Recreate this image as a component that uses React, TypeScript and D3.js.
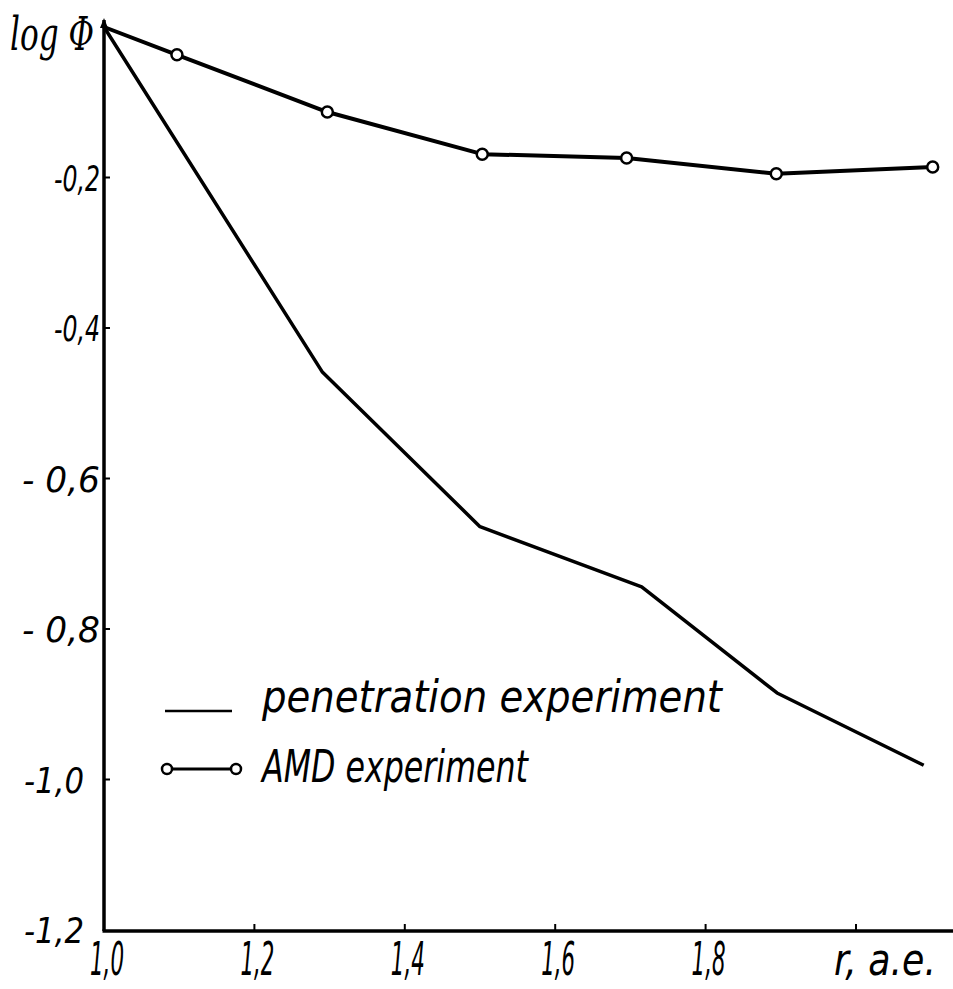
import React from 'react';
import * as d3 from 'd3';

// values (r in a.e., log Phi)
const penR = [1.0, 1.29, 1.5, 1.715, 1.895, 2.09];
const penLog = [0, -0.458, -0.664, -0.744, -0.885, -0.981];

const amdR = [1.0, 1.097, 1.297, 1.503, 1.695, 1.894, 2.102];
const amdLog = [0, -0.037, -0.113, -0.169, -0.174, -0.195, -0.186];

const xTicks = [1.0, 1.2, 1.4, 1.6, 1.8, 2.0];
const xTickLabels = ['1,0', '1,2', '1,4', '1,6', '1,8'];
const yTicks = [-0.2, -0.4, -0.6, -0.8, -1.0, -1.2];
const yTickLabels = ['-0,2', '-0,4', '- 0,6', '- 0,8', '-1,0', '-1,2'];

const W = 953;
const H = 989;
const font = '"DejaVu Sans Condensed", "Liberation Sans Narrow", "DejaVu Sans", sans-serif';

export default function App() {
  const x = d3.scaleLinear().domain([1, 2]).range([104, 856]);
  const y = d3.scaleLinear().domain([-1.2, 0]).range([930, 27]);

  const line = d3
    .line<[number, number]>()
    .x((d) => x(d[0]))
    .y((d) => y(d[1]));

  const pen = penR.map((r, i) => [r, penLog[i]] as [number, number]);
  const amd = amdR.map((r, i) => [r, amdLog[i]] as [number, number]);

  const x0 = x(1);
  const yBottom = y(-1.2) + 1;

  return (
    <svg width={W} height={H} style={{ position: 'absolute', left: 0, top: 0, background: '#fff' }}>
      {/* axes */}
      <line x1={x0} y1={20} x2={x0} y2={yBottom} stroke="#000" strokeWidth={3.5} />
      <line x1={x0 - 1.5} y1={yBottom} x2={W} y2={yBottom} stroke="#000" strokeWidth={3.5} />
      <path d={`M${x0 - 4},28 L${x0},18 L${x0 + 4},28 Z`} fill="#000" />

      {/* y ticks */}
      {yTicks.slice(0, 5).map((t) => (
        <line key={t} x1={x0} x2={x0 + 6} y1={y(t)} y2={y(t)} stroke="#000" strokeWidth={2} />
      ))}
      {yTickLabels.map((lab, i) => (
        <text
          key={lab}
          x={i < 4 ? 100 : 84}
          y={y(yTicks[i]) + 13}
          textAnchor="end"
          fontFamily={font}
          fontStyle="italic"
          fontSize={36}
          textLength={i === 2 || i === 3 ? 78 : i < 2 ? 46 : 60}
          lengthAdjust="spacingAndGlyphs"
        >
          {lab}
        </text>
      ))}

      {/* x ticks */}
      {xTicks.slice(1).map((t) => (
        <line key={t} x1={x(t)} x2={x(t)} y1={yBottom} y2={yBottom - 7} stroke="#000" strokeWidth={2} />
      ))}
      {xTickLabels.map((lab, i) => (
        <text
          key={lab}
          x={x(xTicks[i]) + 3}
          y={975}
          textAnchor="middle"
          fontFamily={font}
          fontStyle="italic"
          fontSize={46}
          textLength={34}
          lengthAdjust="spacingAndGlyphs"
        >
          {lab}
        </text>
      ))}
      <text
        x={834}
        y={975}
        fontFamily={font}
        fontStyle="italic"
        fontSize={44}
        textLength={102}
        lengthAdjust="spacingAndGlyphs"
      >
        r, a.e.
      </text>

      {/* axis title */}
      <text
        x={10}
        y={50}
        fontFamily='"DejaVu Serif", serif'
        fontStyle="italic"
        fontSize={46}
        textLength={84}
        lengthAdjust="spacingAndGlyphs"
      >
        log Φ
      </text>

      {/* series */}
      <path d={line(pen) ?? ''} fill="none" stroke="#000" strokeWidth={3.5} strokeLinejoin="round" />
      <path d={line(amd) ?? ''} fill="none" stroke="#000" strokeWidth={4} strokeLinejoin="round" />
      {amd.slice(1).map((d, i) => (
        <circle key={i} cx={x(d[0])} cy={y(d[1])} r={5.5} fill="#fff" stroke="#000" strokeWidth={2.5} />
      ))}

      {/* legend */}
      <line x1={165} x2={232} y1={711} y2={711} stroke="#000" strokeWidth={2.5} />
      <text
        x={262}
        y={712}
        fontFamily={font}
        fontStyle="italic"
        fontSize={44}
        textLength={460}
        lengthAdjust="spacingAndGlyphs"
      >
        penetration experiment
      </text>
      <line x1={167} x2={236} y1={769} y2={769} stroke="#000" strokeWidth={3} />
      <circle cx={167} cy={769} r={5} fill="#fff" stroke="#000" strokeWidth={2.5} />
      <circle cx={236} cy={769} r={5} fill="#fff" stroke="#000" strokeWidth={2.5} />
      <text
        x={262}
        y={782}
        fontFamily={font}
        fontStyle="italic"
        fontSize={44}
        textLength={266}
        lengthAdjust="spacingAndGlyphs"
      >
        AMD experiment
      </text>
    </svg>
  );
}
